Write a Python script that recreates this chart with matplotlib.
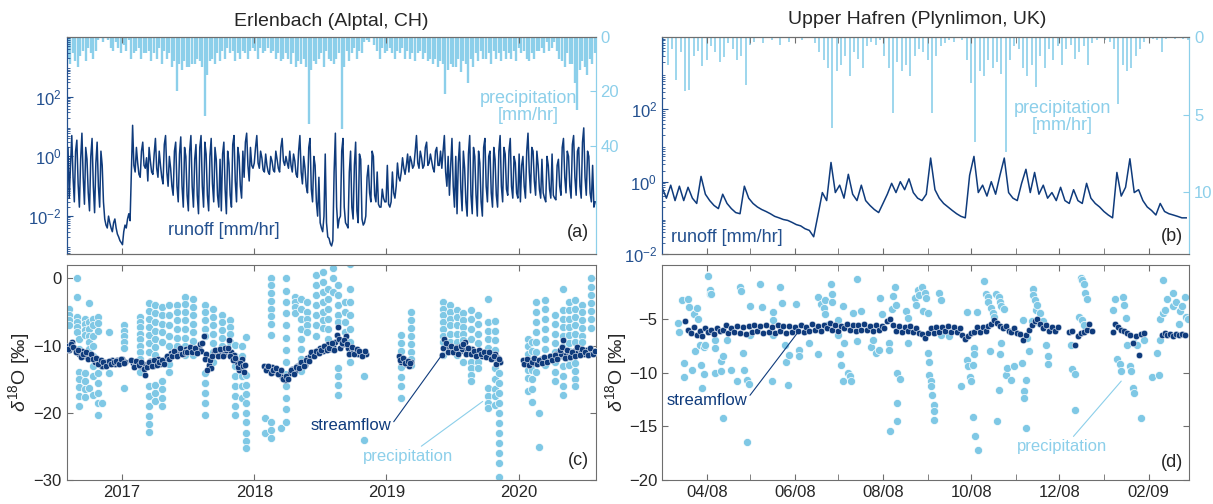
import numpy as np
import pandas as pd
import matplotlib
matplotlib.use("Agg")
import matplotlib.pyplot as plt
import matplotlib.dates as mdates
from matplotlib.ticker import FixedLocator, LogLocator, NullFormatter

plt.rcParams["font.family"] = ["Liberation Sans", "DejaVu Sans"]
plt.rcParams["mathtext.fontset"] = "custom"
plt.rcParams["mathtext.rm"] = "Liberation Sans"
plt.rcParams["mathtext.it"] = "Liberation Sans:italic"

DARK = "#0f3b7c"
DARK_AX = "#23508f"
LIGHT = "#8ccfea"
PREC_DOT = "#7fc8e5"
FRAME = "#6e6e6e"
TXT = "#262626"

# ========= Erlenbach: runoff [mm/hr], weekly from 2016-08-01 =========
runoff_a = [
    # 2016 Aug-Dec
    0.15, 0.04, 5.0, 0.03, 3.5, 0.02, 6.0, 0.025, 0.8, 0.015, 4.0, 0.013, 3.0,
    0.02, 0.5, 0.008, 0.004, 0.006, 0.003, 0.008, 0.0025, 0.0015,
    # 2017
    0.0011, 0.005, 0.008, 0.007, 11.0, 0.3, 0.6, 0.2, 3.0, 0.4, 0.15, 0.7, 0.25,
    4.0, 0.2, 0.5, 0.12, 5.0, 0.1, 0.4, 0.05, 3.0, 0.03, 4.5, 0.02, 1.0,
    0.015, 5.0, 0.02, 2.5, 0.012, 5.0, 0.02, 1.2, 0.015, 4.0, 0.03, 0.8, 0.02,
    0.015, 3.0, 0.012, 0.6, 0.02, 5.0, 0.03, 1.0, 0.04, 0.2, 6.0, 0.15, 0.5,
    # 2018
    0.6, 5.0, 0.4, 0.9, 0.3, 0.5, 0.25, 0.7, 0.3, 0.8, 0.3, 4.0, 0.5,
    0.6, 1.5, 0.3, 0.7, 0.2, 5.0, 0.12, 0.4, 0.06, 4.0, 0.03, 0.5, 0.01,
    0.006, 0.003, 1.2, 0.002, 0.0012, 0.0015, 6.0, 0.004, 0.01, 4.0, 0.006, 0.004, 1.5,
    0.008, 3.0, 0.006, 0.8, 0.005, 0.01, 0.5, 0.03, 1.0, 0.03, 0.025, 0.02, 0.04,
    # 2019
    0.03, 0.025, 0.03, 0.06, 0.1, 0.2, 0.3, 0.4, 0.5, 0.3, 0.7, 0.5, 5.0,
    0.4, 0.9, 0.5, 3.0, 0.6, 0.7, 0.3, 2.0, 0.5, 0.4, 5.0, 0.1, 0.05,
    4.0, 0.02, 0.012, 3.0, 0.015, 0.4, 0.01, 5.0, 0.012, 1.0, 0.01, 0.6, 0.01,
    4.0, 0.03, 1.5, 0.02, 0.8, 0.02, 5.0, 0.03, 1.2, 0.05, 4.0, 0.04, 0.6,
    # 2020 Jan-Jul
    0.04, 0.03, 1.0, 0.04, 6.0, 0.06, 1.5, 0.05, 0.5, 0.04, 0.06, 0.03, 0.5,
    0.04, 0.05, 0.035, 0.8, 0.05, 4.0, 0.06, 1.0, 0.04, 5.0, 0.05, 2.0, 0.04,
    9.0, 0.05, 1.0, 0.03, 0.02,
]
# mid-week runoff (3.5 days after each value above)
runoff_a_mid = [
    2.0, 0.5, 0.2, 1.5, 0.12, 0.8, 0.2, 2.0, 0.06, 1.0, 0.1, 0.6, 0.1,
    1.5, 0.03, 0.005, 0.01, 0.004, 0.006, 0.004, 0.002, 0.0013,
    0.003, 0.004, 0.012, 0.3, 0.5, 2.0, 0.25, 1.5, 0.5, 0.9, 2.0, 0.3, 1.2,
    0.4, 1.5, 0.2, 2.5, 0.3, 1.0, 0.1, 1.5, 0.1, 1.2, 0.1, 2.0, 0.05,
    1.5, 0.1, 0.8, 0.05, 2.0, 0.1, 3.0, 0.05, 1.0, 0.12, 2.0, 0.05, 0.8,
    1.2, 0.08, 1.5, 0.05, 2.5, 0.15, 2.0, 0.1, 1.5, 3.0, 0.5, 2.0, 0.4,
    2.0, 0.6, 1.5, 0.35, 1.2, 0.3, 1.0, 0.35, 1.5, 0.4, 2.0, 0.7, 1.0,
    0.4, 0.5, 1.2, 0.25, 1.5, 0.3, 1.0, 0.1, 2.0, 0.08, 1.0, 0.03, 0.2,
    0.004, 0.01, 0.006, 0.0018, 0.001, 0.3, 0.02, 0.008, 1.5, 0.02, 0.005, 0.3, 0.02,
    0.5, 0.015, 1.2, 0.008, 0.006, 0.2, 0.06, 1.5, 0.05, 0.3, 0.02, 0.08, 0.03,
    0.5, 0.02, 0.3, 0.04, 0.6, 0.15, 0.9, 0.25, 1.2, 1.0, 0.4, 1.5, 0.6,
    1.5, 0.4, 2.0, 0.5, 1.2, 0.4, 1.5, 0.5, 1.5, 1.5, 0.3, 1.0, 0.5,
    0.1, 1.0, 0.6, 0.08, 1.5, 0.03, 1.2, 0.05, 2.0, 0.05, 1.5, 0.03, 2.0,
    0.1, 1.0, 0.06, 2.0, 0.05, 1.5, 0.1, 2.0, 0.08, 1.5, 0.1, 1.0, 0.06,
    1.2, 0.5, 0.1, 1.5, 0.3, 2.0, 0.15, 1.5, 0.08, 0.8, 0.04, 1.0, 0.08,
    1.2, 0.04, 0.5, 0.1, 2.0, 0.2, 1.5, 0.1, 2.5, 0.2, 1.5, 0.1, 3.0,
    0.2, 1.5, 0.06, 0.5, 0.03,
]

# weekly max hourly precipitation [mm/hr], from 2016-08-04
precip_a = [
    8, 10, 6, 9, 11, 7, 5, 9, 4, 6, 8, 5, 1, 0.5, 2, 0.5, 1, 4, 5, 2, 4, 6,
    3, 5, 1, 8, 6, 5, 4, 8, 6, 6, 5, 9, 6, 8, 4, 10, 5, 8, 6, 11, 9, 20,
    10, 12, 9, 11, 11, 10, 10, 8, 9, 11, 29, 14, 9, 8, 10, 6, 9, 5, 8, 4, 6, 5,
    9, 6, 8, 5, 6, 8, 5, 4,
    5, 8, 4, 6, 5, 4, 6, 5, 8, 6, 9, 8, 6, 8, 10, 6, 11, 9, 10, 8, 11, 32,
    12, 9, 10, 8, 6, 11, 5, 8, 9, 10, 8, 6, 34, 11, 5, 9, 6, 4, 8, 5, 6, 2,
    1, 2, 0.5, 3, 5, 8, 4, 6,
    5, 4, 6, 8, 5, 6, 4, 8, 5, 8, 6, 9, 6, 5, 8, 6, 9, 8, 10, 8, 11, 9,
    10, 21, 12, 10, 11, 11, 8, 13, 9, 10, 17, 8, 11, 6, 9, 5, 8, 8, 6, 10, 5, 8,
    6, 9, 5, 8, 6, 8, 5, 9,
    4, 6, 5, 8, 9, 6, 8, 5, 5, 4, 6, 2, 5, 4, 2, 5, 8, 9, 11, 6, 10,
    10, 17, 27, 12, 9, 11, 14, 8, 10, 6,
]

# streamflow d18O [permil], weekly + mid-week samples, nan = no samples
stream_c = [
    -10.0, -10.6, -9.4, -10.4, -11.0, -11.2, -10.8, -11.6, -11.3, -11.8, -11.5, -12.4, -12.0,
    -12.6, -13.0, -12.5, -12.8, -12.4, -12.1, -12.7, -12.2, -12.5,
    -12.0, -12.4, np.nan, np.nan, -12.6, -12.9, -12.5, -13.1, -12.7, -14.4, -12.8, -12.3, -13.0,
    -12.6, -12.0, -12.8, -12.3, -11.9, -11.6, -11.1, -11.4, -10.9, -11.0, -10.6, -11.2, -10.5,
    -10.8, -10.3, -11.0, -10.6, -10.4, -10.8, -8.6, -11.2, -12.9, -13.4, -11.0, -10.6, -11.3,
    -10.9, -11.2, -10.7, -9.2, -11.0, -11.4, -12.5, -13.6, -12.0, -13.9, np.nan, np.nan, np.nan,
    np.nan, np.nan, np.nan, np.nan, -13.0, -13.4, -13.7, -13.2, -13.9, -13.6, -14.1, -14.6, -15.1,
    -14.6, -14.0, -13.5, -13.8, -13.0, -12.8, -12.4, -12.9, -11.8, -11.5, -10.9, -11.3, -10.6,
    -10.3, -10.8, -10.1, -9.8, -10.5, -10.0, -9.4, -7.2, -10.4, -9.8, -8.5, -10.4, -10.9,
    -10.6, -11.0, -11.3, -10.9, -11.4, -11.2, np.nan, np.nan, np.nan, np.nan, np.nan, np.nan, np.nan,
    np.nan, np.nan, np.nan, np.nan, np.nan, -11.6, -12.4, -12.0, -12.8, -13.1, -12.5, np.nan, np.nan,
    np.nan, np.nan, np.nan, np.nan, np.nan, np.nan, np.nan, np.nan, np.nan, -11.4, -9.0, -10.2, -10.6,
    -10.4, -10.9, -10.2, -10.8, -10.5, -9.4, -10.8, -11.0, -10.5, -10.9, -11.2, -10.8, -11.5,
    -11.0, -11.4, -11.2, -11.8, -11.3, -11.9, -12.4, np.nan, np.nan, np.nan, np.nan, np.nan, np.nan,
    np.nan, np.nan, -12.2, -12.8, -12.4, -12.1, -12.6, -12.3, -12.5, -12.0, -12.3, -11.8, -12.1,
    -11.6, -11.9, -11.3, -11.7, -11.2, -9.2, -11.4, -11.0, -11.3, -10.8, -11.1, -10.4, -10.9,
    -11.2, -10.7, -11.0, -10.6, -11.0,
]
stream_c_mid = [
    -10.5, -9.8, -10.2, -11.0, -10.6, -11.7, -11.3, -11.0, -12.0, -11.3, -12.0, -11.9, -12.7,
    -12.2, -12.4, -13.1, -12.3, -12.8, -12.5, -12.3, -12.8, -12.0,
    -12.6, np.nan, np.nan, -12.2, -13.2, -12.3, -12.9, -12.4, -13.5, -13.2, -12.4, -13.1, -12.2,
    -12.9, -12.5, -12.1, -12.7, -11.5, -12.0, -11.6, -10.8, -11.5, -10.4, -11.3, -10.9, -11.0,
    -10.2, -10.9, -10.4, -11.1, -9.8, -9.6, -12.0, -13.6, -12.2, -11.6, -10.7, -11.6, -10.5,
    -11.5, -10.3, -10.4, -11.6, -12.2, -11.9, -13.2, -12.6, -13.0, -12.9, np.nan, np.nan, np.nan,
    np.nan, np.nan, np.nan, np.nan, -13.6, -13.1, -14.0, -13.6, -13.3, -14.2, -13.7, -14.9, -14.5,
    -15.0, -13.6, -14.2, -13.2, -13.4, -12.5, -13.0, -12.1, -12.3, -11.0, -11.6, -10.8, -11.1,
    -10.6, -10.0, -10.6, -10.3, -9.6, -10.6, -8.4, -9.0, -9.6, -9.2, -9.8, -11.2, -10.2,
    -11.2, -10.5, -10.8, -11.5, -10.8, np.nan, np.nan, np.nan, np.nan, np.nan, np.nan, np.nan, np.nan,
    np.nan, np.nan, np.nan, np.nan, np.nan, -12.1, -11.9, -12.6, -12.3, -12.6, np.nan, np.nan, np.nan,
    np.nan, np.nan, np.nan, np.nan, np.nan, np.nan, np.nan, np.nan, np.nan, -10.3, -9.6, -10.9, -10.1,
    -11.0, -10.4, -11.2, -10.0, -9.8, -11.2, -10.4, -11.3, -10.8, -11.6, -10.6, -11.2, -11.0,
    -11.7, -10.9, -12.0, -11.5, -12.8, -12.0, np.nan, np.nan, np.nan, np.nan, np.nan, np.nan, np.nan,
    np.nan, np.nan, -12.7, -12.0, -12.9, -12.5, -11.9, -12.8, -12.1, -12.6, -11.7, -12.4, -11.5,
    -12.2, -11.4, -12.0, -10.6, -10.2, -11.8, -10.6, -11.7, -10.9, -11.5, -10.2, -11.4, -10.5,
    -10.9, -11.4, -10.4, -11.2, -10.8,
]

# precipitation samples d18O: one sampling event per date
prec_c_dates = [
    "2016-08-06", "2016-08-30", "2016-09-03", "2016-09-20", "2016-10-01", "2016-10-12",
    "2016-10-26", "2016-11-06", "2016-11-25",
    "2017-01-05", "2017-02-20", "2017-03-15", "2017-04-01", "2017-04-20", "2017-05-10",
    "2017-06-02", "2017-06-25", "2017-07-15", "2017-08-18", "2017-09-09", "2017-10-04",
    "2017-10-27", "2017-11-10", "2017-11-28", "2017-12-09",
    "2018-01-30", "2018-02-17", "2018-03-17", "2018-03-30", "2018-04-24", "2018-05-10",
    "2018-05-28", "2018-06-20", "2018-07-10", "2018-07-25", "2018-08-06", "2018-08-20",
    "2018-09-08", "2018-09-23", "2018-10-30",
    "2019-02-11", "2019-03-10", "2019-06-06", "2019-06-25", "2019-07-15", "2019-08-01",
    "2019-08-22", "2019-09-12", "2019-10-08", "2019-10-27", "2019-11-09",
    "2020-01-26", "2020-02-06", "2020-02-19", "2020-02-26", "2020-03-15", "2020-04-10",
    "2020-05-04", "2020-05-18", "2020-06-05", "2020-06-25", "2020-07-18",
]
prec_c_vals = [
    [-4.5, -5.5, -6.2, -7.0],
    [0.0, -2.7, -5.7, -6.5, -7.3, -7.9],
    [-9.0, -10.5, -13.9, -15.0, -16.2, -17.5, -19.0],
    [-6.0, -6.8, -7.6, -8.4, -14.0, -15.2, -16.4, -17.6],
    [-3.7, -6.5, -7.5, -8.5, -9.5, -10.5, -16.3],
    [-6.0, -7.0, -8.5, -10.0, -11.5, -13.0, -14.5, -17.3],
    [-5.7, -6.7, -7.8, -14.0, -15.5, -17.0, -18.5, -20.3],
    [-13.0, -18.6],
    [-8.0, -14.1],
    [-7.0, -7.8, -8.6, -9.5, -10.4, -16.3],
    [-5.7, -6.5, -7.3, -8.2, -9.0, -10.0, -11.0, -12.0, -13.0, -13.9],
    [-3.7, -4.8, -6.0, -7.2, -8.4, -9.6, -11.0, -16.0, -17.5, -19.0, -20.5, -21.7, -22.8],
    [-4.0, -5.2, -6.5, -7.8, -9.0, -10.2, -11.4, -15.8, -17.0, -18.3],
    [-4.2, -5.5, -6.8, -8.0, -9.4, -15.3, -16.5, -17.8, -19.0],
    [-4.0, -5.5, -7.0, -8.5, -10.0, -11.5, -12.8, -13.9],
    [-4.0, -5.0, -6.2, -7.5, -8.8, -10.0, -11.4],
    [-2.7, -3.8, -5.0, -6.2, -7.5, -8.8, -10.0, -11.4],
    [-3.0, -4.2, -5.5, -6.8, -8.0, -9.3, -10.5, -11.4],
    [-4.0, -5.0, -6.2, -7.5, -8.6, -14.0, -15.5, -17.0, -18.5, -20.3],
    [-4.5, -5.8, -7.0, -8.3, -9.6, -11.0, -12.4],
    [-5.4, -6.5, -7.6, -8.8, -10.0, -11.4],
    [-6.2, -7.2, -8.3, -9.5, -10.9],
    [-9.9, -11.5, -13.0, -14.5, -16.0, -17.5, -19.0, -20.3],
    [-10.0, -11.5, -13.0, -14.5, -16.0, -17.8],
    [-8.7, -14.4, -15.8, -17.2, -18.5, -20.0, -21.3, -23.0, -24.2, -25.2],
    [-20.8, -23.0],
    [0.0, -1.0, -2.2, -3.3, -4.5, -5.6, -6.8, -8.4, -21.3, -22.5, -23.8],
    [-22.3],
    [0.0, -1.8, -3.5, -5.2, -7.0, -8.8, -10.6, -12.4, -14.2, -16.0, -17.8, -19.5, -21.3],
    [-2.7, -3.5, -4.3, -5.2],
    [-3.0, -4.5, -6.0, -7.5, -9.0, -10.5, -12.0, -13.8],
    [-3.5, -5.0, -6.0, -7.0, -8.0],
    [0.5, -1.0, -2.5, -4.0, -5.5, -7.0, -8.5],
    [1.0, -0.5, -2.0, -3.5, -5.0, -6.2, -7.4],
    [-1.5, -3.0, -4.5, -6.0, -7.5, -9.0],
    [1.5, 0.0, -2.0],
    [-1.0, -2.5, -4.0, -5.5, -6.5, -13.4, -14.5, -15.8, -17.3],
    [-3.5, -5.0, -6.5, -8.0, -9.4],
    [2.1, -1.5, -3.5, -5.5, -7.5, -9.5, -11.0, -12.4],
    [-14.5, -24.0],
    [-8.4, -9.6, -10.8, -12.0, -13.2, -14.6, -16.0, -17.8],
    [-5.0, -6.2, -7.4, -8.6, -9.8, -11.0, -12.0, -12.9],
    [-3.5, -4.5, -5.5, -6.5, -7.5, -8.5, -9.5, -11.4],
    [-4.0, -5.0, -6.0, -7.0, -8.2, -9.4],
    [-4.7, -5.8, -7.0, -8.2, -9.4, -10.5, -11.4],
    [-5.2, -6.2, -7.2, -8.2, -9.2, -12.4],
    [-4.7, -6.0, -7.5, -9.0, -10.5, -12.4, -13.4, -14.4, -15.3],
    [-5.4, -6.8, -8.2, -9.6, -11.0, -12.4, -13.4],
    [-3.0, -6.5, -7.8, -9.0, -10.4, -11.4, -16.3, -17.5, -18.5, -19.3],
    [-6.4, -7.8, -9.2, -10.6, -12.0, -13.4, -15.0, -16.5, -17.5, -18.8],
    [-12.4, -14.0, -15.5, -17.0, -18.5, -20.0, -21.5, -23.0, -24.5, -26.0, -27.5, -29.5],
    [-9.0, -10.0, -11.2, -12.4, -13.6, -14.8, -16.8],
    [-9.4, -10.8, -12.2, -13.6, -15.0, -16.5, -18.4],
    [-3.5, -5.0, -6.5, -8.0, -9.5, -11.0, -12.5, -13.9],
    [-20.0, -25.1],
    [-3.2, -4.5, -6.0, -7.5, -9.0, -10.5, -12.0, -12.9],
    [-5.4, -6.8, -8.2, -9.6, -11.0, -12.4, -13.9, -15.3],
    [-1.5, -4.7, -6.0, -7.3, -8.6, -10.0, -11.5, -13.0, -14.5, -16.0, -17.3],
    [-3.5, -4.7, -6.0, -7.2, -8.4, -9.6, -10.8, -12.0, -12.9],
    [-3.2, -4.5, -5.8, -7.0, -8.2, -9.4, -11.4, -12.6, -13.8, -15.0, -16.0],
    [-4.0, -5.0, -6.2, -7.4, -8.6, -9.5],
    [0.0, -1.2, -2.4, -3.6, -4.8, -6.0, -7.4],
]

# ========= Upper Hafren: 3-daily values from 2008-03-01 =========
runoff_b = [
    0.7, 0.35, 0.8, 0.3, 0.75, 0.3, 0.7, 0.35, 0.25, 1.4, 0.45, 0.3, 0.22, 0.18, 0.45,
    0.25, 0.18, 0.14, 0.13, 0.75, 0.35, 0.25, 0.2, 0.17, 0.15, 0.13, 0.11, 0.1, 0.09, 0.085,
    0.075, 0.065, 0.06, 0.05, 0.045, 0.03, 0.12, 0.5, 0.3, 3.4, 0.5, 0.8, 0.35, 1.6, 0.45,
    0.3, 0.8, 0.3, 0.22, 0.17, 0.14, 0.25, 0.45, 0.9, 0.5, 1.0, 0.6, 1.2, 0.5, 0.35,
    0.3, 0.45, 4.5, 0.6, 0.35, 0.25, 0.2, 0.16, 0.13, 0.11, 0.1, 1.5, 5.0, 0.5, 0.8,
    0.4, 1.0, 0.45, 1.5, 4.5, 0.5, 0.35, 0.3, 0.9, 2.2, 0.5, 1.8, 0.45, 0.8, 0.35,
    0.5, 0.3, 0.7, 0.3, 0.25, 0.6, 0.3, 0.25, 0.9, 0.35, 0.25, 0.2, 0.15, 0.12, 0.1,
    1.8, 0.4, 0.7, 4.3, 0.5, 0.6, 0.3, 0.2, 0.16, 0.12, 0.25, 0.15, 0.13, 0.12, 0.11,
    0.1, 0.1,
]
precip_b = [
    1.2, 1.8, 0.8, 2.8, 1.0, 3.5, 3.4, 1.2, 0.9, 1.9, 1.5, 0.6, 1.0, 1.6, 1.3,
    0.4, 0.8, 1.5, 1.2, 3.1, 0.5, 0.3, 0, 0.4, 0, 0.2, 0, 0.5, 0, 0.3,
    0, 0, 0.2, 0, 0, 0.4, 1.0, 1.5, 2.0, 5.9, 2.2, 1.8, 1.2, 2.5, 1.0,
    1.4, 2.0, 0.6, 0.3, 0.5, 0.2, 1.2, 2.0, 4.9, 1.6, 2.2, 1.8, 2.5, 1.2, 0.8,
    1.0, 1.5, 4.9, 1.2, 0.6, 0.4, 0.2, 0.3, 0, 0.2, 1.5, 3.0, 6.8, 2.2, 2.5,
    1.5, 2.0, 1.6, 2.4, 7.4, 1.5, 0.6, 0.8, 2.0, 2.5, 1.8, 3.2, 1.2, 2.0, 0.8,
    1.5, 0.6, 1.8, 0.8, 0.5, 1.4, 1.0, 0.6, 1.8, 0.4, 0.2, 0, 0.2, 0.3, 0.8,
    4.3, 1.8, 2.2, 2.0, 1.2, 0.8, 0.3, 0, 0.1, 0.2, 1.0, 0.1, 0, 0.1, 0,
    0.1, 0.2,
]

# streamflow d18O every 2nd day, starting day 16 after 2008-03-01
stream_d = [
    -5.2, -6.0, -6.3, -5.8, -6.5, -6.1, -6.6, -5.9, -6.2, -6.0, -6.4, -5.9, -6.1,
    -6.0, -5.6, -6.3, -5.9, -6.2, -5.7, -6.3, -5.8, -6.4, -5.7, -6.2, -5.6, -6.1, -5.7, -6.3,
    -5.6, -6.2, -5.8, -6.3, -5.6, -6.1, -5.7, -6.3, -5.7, -6.2, -5.8, -6.1, -5.6, -6.2, -5.8,
    -6.1, -5.5, -6.0, -5.7, -6.1, -5.6, -5.9, -5.4, -6.0, -5.6, -6.1, -5.7, -5.9, -5.5, -6.0,
    -5.6, -6.1, -5.6, -6.0, -5.5, -6.0, -5.7, -6.1, -5.6, -6.0, -5.7, -5.9, -5.2, -5.0, -5.6,
    -6.1, -5.7, -6.2, -5.8, -6.1, -5.7, -6.2, -5.9, -6.3, -6.4, -6.8, -6.3, -5.9, -6.3, -5.8,
    -6.2, -5.8, -6.1, -5.7, -6.2, -5.8, -6.2, -5.9, -6.5, -6.9, -6.6, -6.3, -6.2, -5.8, -6.2,
    -5.8, -6.1, -5.7, -5.5, -5.1, -5.4, -5.7, -5.9, -5.7, -6.1, -6.2, -5.9, -6.3, -6.4, -7.0,
    -6.5, -6.0, -5.6, -5.2, -5.0, -5.5, -5.9, -5.6, -6.1, -5.8, -6.1, -5.8,
    np.nan, np.nan, np.nan,
    -6.2, -6.1, -7.4, -6.6, -6.3, -6.2, -6.0, -5.5, -6.1,
    np.nan, np.nan, np.nan, np.nan, np.nan, np.nan,
    -6.2, -5.5, -5.8, -6.0, -6.1, -6.3, -6.5, -7.3, -6.6, -8.4, -6.4, -6.3,
    np.nan, np.nan, np.nan, np.nan, np.nan,
    -6.5, -6.3, -6.5, -6.4, -6.6, -6.4, -6.5, -6.4, -6.5,
]

# precipitation samples: day after 2008-03-01 and d18O
prec_d_day = [
    11, 12, 14, 15, 15, 18, 19, 21, 22, 23, 24, 25, 26, 27, 28, 29, 29, 30, 32, 33, 33, 34,
    37, 37, 37, 41, 41, 42, 42, 45, 48, 52, 54, 55, 56, 57, 59, 59, 60, 61, 61, 68, 69,
    76, 77, 77, 77, 82, 83, 85, 86, 87, 88, 93, 95, 95, 102, 108, 108, 110, 112, 113, 113,
    114, 117, 118, 118, 122, 122, 123, 124, 125, 125, 126, 129, 130, 131, 132, 135, 135,
    138, 145, 146, 148, 150, 151, 152, 157, 157, 158, 159, 160, 161, 162, 163, 163, 163,
    165, 169, 170, 170, 175, 176, 177, 178, 180, 181,
    182, 183, 184, 184, 185, 185, 186, 186, 187, 188, 188, 188, 192, 193, 193, 199, 207,
    211, 211, 212, 213, 214, 215, 215, 216, 216, 217, 218, 219, 223, 224, 226, 226, 227,
    228, 229, 230, 231, 232, 233, 233, 234, 234, 235, 235, 237, 238, 239, 242, 244, 249,
    250, 251, 251, 252, 252, 253, 254, 256, 257, 257, 258, 259, 260, 261, 262, 264, 266,
    267, 267, 283, 284, 286, 286, 289, 290, 291, 292, 293, 294, 291, 292, 312, 314, 315,
    317, 318, 319, 320, 321, 322, 324, 325, 326, 327, 327, 329, 332, 334, 339, 343, 344,
    345, 345, 347, 347, 348, 350, 354, 354, 356, 358, 359, 360, 362, 363, 364,
]
prec_d_val = [
    -5.4, -6.2, -3.3, -9.1, -10.4, -3.2, -3.9, -9.8, -4.6, -8.0, -4.0, -5.0, -7.4, -9.3,
    -11.4, -10.1, -7.6, -7.4, -1.0, -2.3, -2.7, -2.7, -7.0, -10.0, -7.7, -8.9, -9.9, -14.2,
    -8.5, -7.0, -9.8, -10.8, -2.0, -2.4, -8.2, -9.8, -10.7, -16.5, -11.1, -3.8, -6.5, -1.8,
    -3.9, -10.8, -6.5, -5.1, -4.4, -2.0, -3.5, -7.4, -9.0, -11.2, -8.4, -3.6, -7.9, -8.5,
    -7.3, -8.3, -3.0, -3.6, -4.0, -3.3, -4.6, -5.6, -1.8, -2.7, -3.4, -5.1, -6.5, -8.3,
    -9.3, -10.8, -3.8, -7.3, -10.0, -10.3, -10.8, -4.5, -1.3, -7.1, -4.3, -7.6, -7.0, -8.2,
    -7.9, -3.1, -4.6, -7.3, -7.9, -15.4, -4.1, -2.9, -2.0, -3.7, -14.5, -12.8, -10.0, -10.6,
    -4.3, -4.9, -7.3, -3.1, -3.7, -2.3, -2.8, -2.0, -4.3,
    -2.6, -3.1, -4.5, -8.2, -9.0, -10.2, -10.8, -11.3, -12.1, -13.0, -13.6, -14.4, -2.6,
    -3.3, -6.5, -6.6, -11.3, -4.4, -8.8, -9.4, -10.4, -10.8, -14.1, -9.3, -7.7, -8.3, -15.9,
    -4.4, -17.2, -1.5, -2.7, -3.0, -3.4, -8.0, -4.0, -4.5, -4.8, -2.7, -14.5, -11.6, -3.0,
    -8.3, -3.4, -7.3, -3.8, -4.1, -10.2, -9.6, -10.7, -9.4, -9.1, -5.1, -11.7, -12.4, -15.2,
    -10.7, -6.8, -8.0, -5.2, -2.2, -2.8, -3.3, -4.2, -3.7, -5.4, -4.5, -5.2, -7.4, -8.5,
    -9.2, -7.4, -9.7, -10.1, -13.5, -4.8, -1.2, -1.4, -1.8, -2.6, -3.2, -5.1, -5.6, -4.2,
    -3.2, -8.7, -9.2, -9.9, -3.0, -3.7, -4.9, -7.4, -9.4, -9.9, -11.4, -11.9, -7.3, -7.4,
    -14.2, -7.0, -10.4, -8.2, -10.2, -7.0, -5.0, -1.4, -4.5, -4.2, -3.2, -3.8, -2.6, -3.4,
    -5.5, -4.3, -3.8, -3.0, -4.8, -5.0,
]

# ========= dates =========
dates_a = pd.date_range("2016-08-01", periods=len(runoff_a), freq="7D")
dates_q_a = np.column_stack([dates_a, dates_a + pd.Timedelta(hours=84)]).ravel()
runoff_a_all = np.column_stack([runoff_a, runoff_a_mid]).ravel()
dates_pa = pd.date_range("2016-08-04", periods=len(precip_a), freq="7D")
dates_sc = pd.date_range("2016-08-01", periods=len(stream_c), freq="7D")
dates_sc_mid = dates_sc + pd.Timedelta(hours=84)
xs_pc, ys_pc = [], []
for d, vals in zip(prec_c_dates, prec_c_vals):
    xs_pc += [pd.Timestamp(d)] * len(vals)
    ys_pc += vals

start_b = pd.Timestamp("2008-03-01")
dates_b = pd.date_range(start_b, periods=len(runoff_b), freq="3D")
dates_pb = pd.date_range("2008-03-02", periods=len(precip_b), freq="3D")
dates_sd = start_b + pd.to_timedelta(np.arange(16, 16 + 2 * len(stream_d), 2), unit="D")
dates_pd = start_b + pd.to_timedelta(prec_d_day, unit="D")

XLIM_A = (pd.Timestamp("2016-08-01"), pd.Timestamp("2020-08-01"))
XLIM_B = (pd.Timestamp("2008-03-01"), pd.Timestamp("2009-03-01"))


def style_x(ax, site, labels):
    if site == "a":
        ax.set_xlim(*XLIM_A)
        ax.xaxis.set_major_locator(mdates.YearLocator())
        ax.xaxis.set_major_formatter(mdates.DateFormatter("%Y"))
    else:
        ax.set_xlim(*XLIM_B)
        ax.xaxis.set_major_locator(mdates.MonthLocator(bymonth=[2, 4, 6, 8, 10, 12]))
        ax.xaxis.set_minor_locator(mdates.MonthLocator(bymonth=[1, 3, 5, 7, 9, 11]))
        ax.xaxis.set_major_formatter(mdates.DateFormatter("%m/%y"))
    ax.tick_params(axis="x", which="both", direction="in", top=True, length=4.5,
                   labelbottom=labels, labelsize=12, colors=FRAME, labelcolor=TXT)


def top_panel(ax, dq, q, dp, p, q_lim, p_max, p_ticks, site, bar_lw):
    ax2 = ax.twinx()
    ax2.vlines(dp, 0, p, color=LIGHT, lw=bar_lw)
    ax2.set_ylim(p_max, 0)
    ax2.set_yticks(p_ticks)
    ax2.tick_params(axis="y", direction="in", length=4.5, colors=LIGHT,
                    labelsize=12, labelcolor=LIGHT)

    ax.plot(dq, q, color=DARK, lw=1.1)
    ax.set_yscale("log")
    ax.set_ylim(*q_lim)
    ax.yaxis.set_major_locator(FixedLocator([1e-2, 1, 1e2]))
    ax.yaxis.set_minor_locator(LogLocator(base=10, subs=np.arange(2, 10), numticks=100))
    ax.yaxis.set_minor_formatter(NullFormatter())
    ax.tick_params(axis="y", which="major", direction="in", length=4.5, colors=DARK_AX,
                   labelsize=12, labelcolor=DARK_AX)
    ax.tick_params(axis="y", which="minor", direction="in", length=2.5, colors=DARK_AX)
    ax.set_zorder(ax2.get_zorder() + 1)
    ax.patch.set_visible(False)

    for a in (ax, ax2):
        for s in ("top", "bottom"):
            a.spines[s].set_color(FRAME)
            a.spines[s].set_linewidth(0.8)
        a.spines["left"].set_color(DARK_AX)
        a.spines["right"].set_color(LIGHT)
    style_x(ax, site, False)
    return ax2


def bottom_panel(ax, ds, s, dp, p, ylim, yticks, site):
    ax.scatter(dp, p, s=34, color=PREC_DOT, edgecolors="white", linewidths=0.5, zorder=2)
    for d, v in zip(ds, s):
        ax.scatter(d, v, s=22, color=DARK, edgecolors="white", linewidths=0.35, zorder=3)
    ax.set_ylim(*ylim)
    ax.set_yticks(yticks)
    ax.tick_params(axis="y", direction="in", right=True, length=4.5, labelsize=12,
                   colors=FRAME, labelcolor=TXT)
    for sp in ax.spines.values():
        sp.set_color(FRAME)
        sp.set_linewidth(0.8)
    ax.set_ylabel(r"$\delta^{18}$O [‰]", fontsize=14, color=TXT)
    style_x(ax, site, True)


fig = plt.figure(figsize=(12.13, 5.04), dpi=100)
ax_a = fig.add_axes([0.055, 0.496, 0.4361, 0.4306])
ax_c = fig.add_axes([0.055, 0.0476, 0.4361, 0.4266])
ax_b = fig.add_axes([0.5458, 0.496, 0.4345, 0.4306])
ax_d = fig.add_axes([0.5458, 0.0476, 0.4345, 0.4266])

# ========= top panels: runoff + precipitation =========
top_panel(ax_a, dates_q_a, runoff_a_all, dates_pa, precip_a, (10 ** -3.27, 1e4),
          80, [0, 20, 40], "a", 1.7)
top_panel(ax_b, dates_b, runoff_b, dates_pb, precip_b, (1e-2, 1e4), 14, [0, 5, 10], "b", 1.2)

ax_a.text(0.297, 0.107, "runoff [mm/hr]", transform=ax_a.transAxes, ha="center",
          va="center", fontsize=13, color=DARK_AX)
ax_a.text(0.872, 0.679, "precipitation\n[mm/hr]", transform=ax_a.transAxes, ha="center",
          va="center", fontsize=13, color=LIGHT, linespacing=1.0)
ax_b.text(0.122, 0.077, "runoff [mm/hr]", transform=ax_b.transAxes, ha="center",
          va="center", fontsize=13, color=DARK_AX)
ax_b.text(0.759, 0.633, "precipitation\n[mm/hr]", transform=ax_b.transAxes, ha="center",
          va="center", fontsize=13, color=LIGHT, linespacing=1.0)

# ========= bottom panels: d18O =========
bottom_panel(ax_c, [dates_sc, dates_sc_mid], [stream_c, stream_c_mid], xs_pc, ys_pc,
             (-30, 2), [-30, -20, -10, 0], "a")
bottom_panel(ax_d, [dates_sd], [stream_d], dates_pd, prec_d_val, (-20, 0),
             [-20, -15, -10, -5], "b")
ax_c.yaxis.set_label_coords(-0.066, 0.5)
ax_d.yaxis.set_label_coords(-0.063, 0.5)

ax_c.annotate("streamflow", xy=(pd.Timestamp("2019-06-03"), -11.4),
              xytext=(pd.Timestamp("2018-09-24"), -21.9), ha="center", va="center",
              fontsize=12, color=DARK, zorder=6,
              arrowprops=dict(arrowstyle="-", color=DARK, lw=0.8, shrinkA=0, shrinkB=0,
                              relpos=(1.0, 0.5)))
ax_c.annotate("precipitation", xy=(pd.Timestamp("2019-09-24"), -18.3),
              xytext=(pd.Timestamp("2019-03-03"), -26.5), ha="center", va="center",
              fontsize=12, color=LIGHT, zorder=6,
              arrowprops=dict(arrowstyle="-", color=LIGHT, lw=0.8, shrinkA=0, shrinkB=0,
                              relpos=(0.6, 1.0)))
ax_d.annotate("streamflow", xy=(start_b + pd.Timedelta(days=95), -6.1),
              xytext=(start_b + pd.Timedelta(days=31), -12.6), ha="center", va="center",
              fontsize=12, color=DARK, zorder=6,
              arrowprops=dict(arrowstyle="-", color=DARK, lw=0.8, shrinkA=0, shrinkB=0,
                              relpos=(1.0, 0.6)))
ax_d.annotate("precipitation", xy=(start_b + pd.Timedelta(days=318), -10.8),
              xytext=(start_b + pd.Timedelta(days=277), -16.9), ha="center", va="center",
              fontsize=12, color=LIGHT, zorder=6,
              arrowprops=dict(arrowstyle="-", color=LIGHT, lw=0.8, shrinkA=0, shrinkB=0,
                              relpos=(0.6, 1.0)))

for ax, lab, y in [(ax_a, "(a)", 0.10), (ax_b, "(b)", 0.08), (ax_c, "(c)", 0.09), (ax_d, "(d)", 0.08)]:
    ax.text(0.988, y, lab, transform=ax.transAxes, ha="right", va="center",
            fontsize=13, color=TXT, zorder=5)

fig.text(331 / 1213, 1 - 21 / 504, "Erlenbach (Alptal, CH)", ha="center", va="center",
         fontsize=14, color=TXT)
fig.text(917 / 1213, 1 - 20 / 504, "Upper Hafren (Plynlimon, UK)", ha="center",
         va="center", fontsize=14, color=TXT)

fig.savefig("out.png", dpi=100)
